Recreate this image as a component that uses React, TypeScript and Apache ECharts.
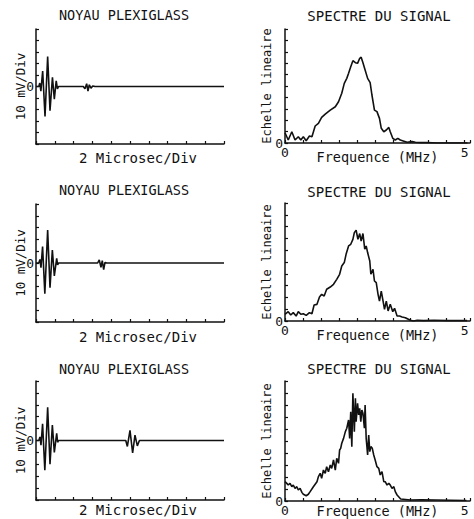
import React, { useEffect, useRef } from "react";
import * as echarts from "echarts";

// ---- Data ----
const waveTitle = "NOYAU PLEXIGLASS";
const spectrumTitle = "SPECTRE DU SIGNAL";
const waveXName = "2 Microsec/Div";
const waveYName = "10 mV/Div";
const specXName = "Frequence (MHz)";
const specYName = "Echelle lineaire";

// time (µs), amplitude (div)
const wave1: [number, number][] = [
  [0, 0], [0.3, 0], [0.4, 0.3], [0.52, -0.4], [0.71, 1.35], [0.96, -2.6], [1.24, 2.6],
  [1.49, -2.1], [1.75, 0.8], [1.95, -1.1], [2.15, 0.5], [2.28, -0.2], [2.4, 0],
  [5.03, 0], [5.21, -0.2], [5.39, 0.24], [5.53, -0.4], [5.67, 0.15], [5.85, -0.15], [6.03, 0.05], [6.28, 0],
  [20, 0],
];
const wave2: [number, number][] = [
  [0, 0], [0.3, 0], [0.42, 0.3], [0.53, -0.4], [0.7, 1.4], [0.94, -2.6], [1.24, 2.8],
  [1.49, -2.1], [1.74, 1.1], [1.95, -1.1], [2.2, 0.4], [2.3, -0.15], [2.4, 0],
  [6.56, 0], [6.73, 0.27], [6.91, -0.37], [7.05, 0.2], [7.2, -0.57], [7.34, 0.05], [7.52, 0],
  [20, 0],
];
const wave3: [number, number][] = [
  [0, 0], [0.3, 0], [0.42, 0.3], [0.53, -0.4], [0.7, 1.4], [0.94, -2.5], [1.24, 2.8],
  [1.49, -2.0], [1.74, 1.3], [1.95, -1.0], [2.2, 0.6], [2.3, -0.15], [2.4, 0],
  [9.55, 0], [9.72, -0.5], [10.0, 0.85], [10.28, -1.05], [10.53, 0.45], [10.78, -0.45], [11.0, 0],
  [20, 0],
];

// frequency (MHz), amplitude (div)
const spectrum1: [number, number][] = [
  [0, 0.9], [0.09, 0.26], [0.19, 0.99], [0.28, 0.26], [0.37, 0.55], [0.44, 0.26], [0.51, 0.55],
  [0.59, 0.2], [0.68, 0.61], [0.75, 0.55], [0.84, 1.49], [0.93, 1.73], [1.02, 2.25], [1.12, 2.54],
  [1.26, 2.89], [1.4, 3.18], [1.49, 3.62], [1.58, 4.36], [1.65, 5.23], [1.72, 5.67], [1.77, 6.11],
  [1.83, 6.69], [1.89, 7.22], [1.96, 7.04], [2.02, 6.99], [2.08, 7.43], [2.12, 7.52], [2.17, 7.04],
  [2.23, 6.4], [2.3, 5.67], [2.37, 5.29], [2.42, 4.21], [2.49, 2.89], [2.56, 2.75], [2.63, 2.16],
  [2.68, 1.29], [2.75, 0.99], [2.82, 1.14], [2.89, 1.37], [2.93, 0.99], [3.0, 0.41], [3.07, 0.26],
  [3.14, 0.41], [3.21, 0.26], [3.29, 0.18], [3.4, 0.06], [3.54, 0.12], [3.63, 0.06], [3.77, 0.03],
  [3.96, 0.03], [4.24, 0], [5.08, 0],
];
const spectrum2: [number, number][] = [
  [0, 0.57], [0.09, 0.79], [0.16, 0.51], [0.23, 0.71], [0.31, 0.42], [0.37, 0.79], [0.44, 0.57],
  [0.51, 0.62], [0.59, 0.48], [0.68, 0.71], [0.75, 0.62], [0.81, 1.36], [0.89, 1.41], [0.96, 2.04],
  [1.02, 2.26], [1.09, 2.12], [1.16, 2.69], [1.26, 2.88], [1.35, 3.11], [1.44, 3.53], [1.52, 3.96],
  [1.58, 4.66], [1.65, 4.95], [1.7, 5.65], [1.77, 6.36], [1.83, 6.5], [1.89, 6.92], [1.93, 7.49],
  [1.98, 7.69], [2.03, 6.92], [2.08, 7.41], [2.12, 6.78], [2.17, 7.41], [2.22, 6.08], [2.26, 6.36],
  [2.3, 5.8], [2.36, 5.08], [2.39, 3.96], [2.45, 4.38], [2.49, 3.39], [2.54, 3.25], [2.59, 2.26],
  [2.63, 1.69], [2.68, 2.54], [2.73, 1.69], [2.77, 0.99], [2.82, 1.69], [2.87, 0.85], [2.93, 1.41],
  [3.0, 0.79], [3.05, 1.08], [3.12, 0.42], [3.19, 0.42], [3.26, 0.34], [3.35, 0.28], [3.49, 0.06],
  [3.58, 0], [3.68, 0.06], [3.86, 0.03], [4.14, 0.06], [4.51, 0.03], [5.07, 0.03],
];
const spectrum3: [number, number][] = [
  [0, 1.61], [0.05, 1.47], [0.09, 1.33], [0.14, 1.47], [0.19, 1.19], [0.23, 1.33], [0.28, 1.06],
  [0.33, 1.19], [0.37, 0.92], [0.42, 1.06], [0.47, 0.72], [0.51, 0.56], [0.59, 0.44], [0.65, 0.56],
  [0.7, 0.78], [0.79, 1.19], [0.89, 1.61], [0.93, 2.03], [0.98, 2.31], [1.02, 1.89], [1.07, 2.58],
  [1.12, 2.31], [1.16, 2.86], [1.21, 2.44], [1.26, 3.0], [1.3, 2.72], [1.35, 3.42], [1.4, 2.58],
  [1.44, 3.56], [1.49, 3.14], [1.52, 4.25], [1.55, 4.39], [1.58, 4.81], [1.63, 5.22], [1.68, 5.78],
  [1.72, 6.06], [1.77, 6.75], [1.8, 5.22], [1.83, 7.44], [1.86, 4.53], [1.89, 8.97], [1.93, 5.78],
  [1.96, 8.56], [1.98, 6.61], [2.02, 8.14], [2.05, 7.17], [2.08, 7.72], [2.11, 6.61], [2.14, 7.58],
  [2.17, 7.31], [2.21, 6.06], [2.23, 8.0], [2.26, 5.22], [2.3, 3.83], [2.33, 5.5], [2.36, 4.11],
  [2.39, 4.53], [2.43, 4.39], [2.47, 3.83], [2.51, 3.42], [2.56, 2.86], [2.61, 2.72], [2.65, 2.17],
  [2.7, 2.44], [2.75, 1.61], [2.79, 1.61], [2.84, 1.33], [2.89, 1.47], [2.93, 1.33], [2.98, 1.06],
  [3.03, 1.19], [3.07, 0.78], [3.12, 0.5], [3.22, 0.17], [3.49, 0.08], [3.8, 0.1], [4.2, 0.08],
  [4.6, 0.06], [5.05, 0.04],
];

const waves = [wave1, wave2, wave3];
const spectra = [spectrum1, spectrum2, spectrum3];

// ---- Layout ----
const INK = "#111";
const FONT = "DejaVu Sans Mono";
const leftGrids = [
  { left: 36, top: 29, width: 188, height: 115 },
  { left: 36, top: 204, width: 188, height: 118 },
  { left: 36, top: 381, width: 188, height: 119 },
];
const rightGrids = [
  { left: 285, top: 29, width: 185, height: 114 },
  { left: 285, top: 203, width: 185, height: 118 },
  { left: 285, top: 381, width: 185, height: 120 },
];
const leftTitleY = [15, 190, 369];
const rightTitleY = [16, 192, 369];
const waveNameGap = [7, 8, 3];
const specNameGap = [7, 7, 3];

export default function App() {
  const ref = useRef<HTMLDivElement>(null);
  useEffect(() => {
    if (!ref.current) return;
    const chart = echarts.init(ref.current, undefined, { renderer: "svg" });

    const grid: any[] = [];
    const xAxis: any[] = [];
    const yAxis: any[] = [];
    const series: any[] = [];
    const graphic: any[] = [];

    const axisLine = { onZero: false, lineStyle: { color: INK, width: 1.5 } };
    const axisTick = { inside: true, length: 3, lineStyle: { color: INK, width: 1.2 } };

    for (let i = 0; i < 3; i++) {
      // wave panel
      grid.push({ ...leftGrids[i], outerBoundsMode: "none" });
      const gi = grid.length - 1;
      xAxis.push({
        type: "value", gridIndex: gi, min: 0, max: 20, interval: 2,
        axisLine, axisTick, splitLine: { show: false }, axisLabel: { show: false },
        name: waveXName, nameLocation: "middle", nameGap: waveNameGap[i], nameMoveOverlap: false,
        nameTextStyle: { fontFamily: FONT, fontSize: 14, color: INK, padding: [0, 0, 0, 16] },
      });
      yAxis.push({
        type: "value", gridIndex: gi, min: -5, max: 5, interval: 1,
        axisLine, axisTick, splitLine: { show: false },
        axisLabel: {
          formatter: (v: number) => (v === 0 ? "0" : ""),
          margin: 2, fontFamily: FONT, fontSize: 13, color: INK,
        },
        name: waveYName, nameLocation: "middle", nameGap: 9, nameMoveOverlap: false,
        nameTextStyle: { fontFamily: FONT, fontSize: 12.5, color: INK },
      });
      series.push({
        type: "line", xAxisIndex: gi, yAxisIndex: gi, data: waves[i],
        showSymbol: false, symbol: "none", lineStyle: { color: INK, width: 1.6 },
      });
      graphic.push({
        type: "text", x: 124, y: leftTitleY[i],
        style: {
          text: waveTitle, fill: INK, font: `13.5px "${FONT}"`,
          align: "center", verticalAlign: "middle", textAlign: "center", textVerticalAlign: "middle",
        },
      });

      // spectrum panel
      grid.push({ ...rightGrids[i], outerBoundsMode: "none" });
      const gj = grid.length - 1;
      xAxis.push({
        type: "value", gridIndex: gj, min: 0, max: 5.15, interval: 0.5,
        axisLine, axisTick, splitLine: { show: false },
        axisLabel: {
          formatter: (v: number) => (v === 0 ? "0" : v === 5 ? "5" : ""),
          margin: 3, fontFamily: FONT, fontSize: 13, color: INK,
        },
        name: specXName, nameLocation: "middle", nameGap: specNameGap[i], nameMoveOverlap: false,
        nameTextStyle: { fontFamily: FONT, fontSize: 13.5, color: INK },
      });
      yAxis.push({
        type: "value", gridIndex: gj, min: 0, max: 10, interval: 1,
        axisLine, axisTick, splitLine: { show: false },
        axisLabel: {
          formatter: (v: number) => (v === 0 ? "0" : ""),
          margin: 2, fontFamily: FONT, fontSize: 13, color: INK,
        },
        name: specYName, nameLocation: "middle", nameGap: 12, nameMoveOverlap: false,
        nameTextStyle: { fontFamily: FONT, fontSize: 12, color: INK },
      });
      series.push({
        type: "line", xAxisIndex: gj, yAxisIndex: gj, data: spectra[i],
        showSymbol: false, symbol: "none", lineStyle: { color: INK, width: 1.6 },
      });
      graphic.push({
        type: "text", x: 379, y: rightTitleY[i],
        style: {
          text: spectrumTitle, fill: INK, font: `14px "${FONT}"`,
          align: "center", verticalAlign: "middle", textAlign: "center", textVerticalAlign: "middle",
        },
      });
    }

    chart.setOption({
      animation: false,
      backgroundColor: "#fff",
      grid, xAxis, yAxis, series, graphic,
    });
    return () => chart.dispose();
  }, []);

  return (
    <div
      ref={ref}
      style={{ position: "fixed", left: 0, top: 0, width: 474, height: 519, background: "#fff" }}
    />
  );
}
